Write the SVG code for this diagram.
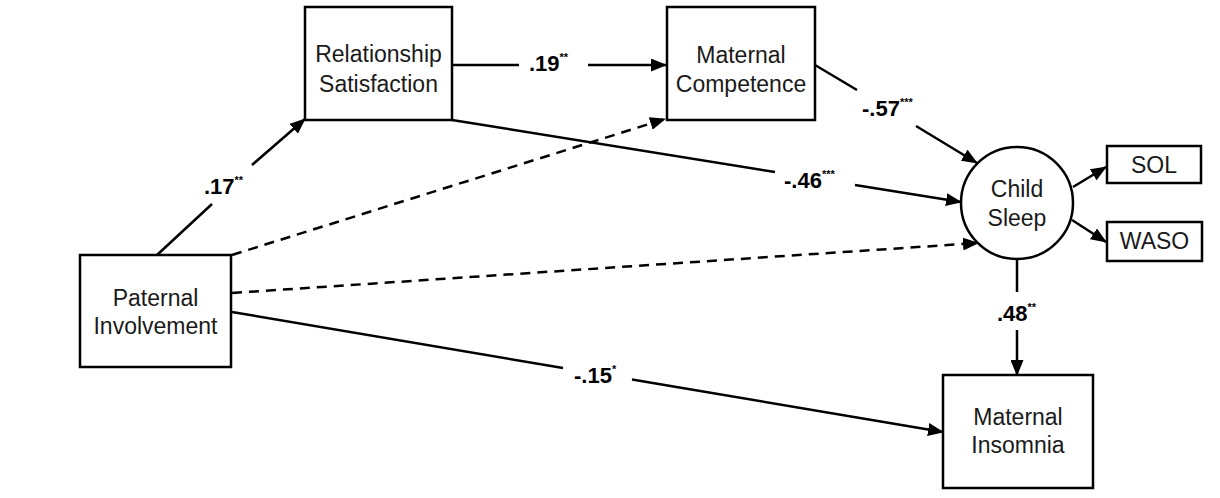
<svg xmlns="http://www.w3.org/2000/svg" width="1220" height="498" viewBox="0 0 1220 498">
<style>
.box{fill:#fff;stroke:#000;stroke-width:2.5}
.nt{font-family:"Liberation Sans",Arial,sans-serif;font-size:23px;fill:#1a1a1a;text-anchor:middle}
.lab{font-family:"Liberation Sans",Arial,sans-serif;font-size:22px;font-weight:bold;fill:#000}
.sup{font-size:11px}
.ln{fill:none;stroke:#000;stroke-width:2.5}
.dash{stroke-dasharray:10 7}
</style>
<defs>
<marker id="arr" viewBox="0 0 16 13" refX="15" refY="6.5" markerWidth="16" markerHeight="13" markerUnits="userSpaceOnUse" orient="auto">
<path d="M0,0 L16,6.5 L0,13 z" fill="#000"/>
</marker>
</defs>
<rect width="1220" height="498" fill="#fff"/>
<g id="connectors">
<path class="ln" d="M157,255 L212,204 M252,165 L305,119" marker-end="url(#arr)"/>
<path class="ln" d="M452,65 L519,65 M588,65 L666,65" marker-end="url(#arr)"/>
<path class="ln" d="M815,65 L857,90 M916,126 L977,163" marker-end="url(#arr)"/>
<path class="ln" d="M452,120 L775,172 M855,185 L961,202" marker-end="url(#arr)"/>
<path class="ln dash" d="M232,255 L665,119" marker-end="url(#arr)"/>
<path class="ln dash" d="M232,293 L978,243" marker-end="url(#arr)"/>
<path class="ln" d="M232,312 L563,368 M632,379.5 L943,432" marker-end="url(#arr)"/>
<path class="ln" d="M1073,187 L1106,167" marker-end="url(#arr)"/>
<path class="ln" d="M1072,220 L1106,242" marker-end="url(#arr)"/>
<path class="ln" d="M1017,260 L1017,292 M1017,330 L1017,375" marker-end="url(#arr)"/>
<text class="lab" x="204" y="194">.17<tspan class="sup" dy="-10">**</tspan></text>
<text class="lab" x="529" y="71">.19<tspan class="sup" dy="-10">**</tspan></text>
<text class="lab" x="862" y="116">-.57<tspan class="sup" dy="-10">***</tspan></text>
<text class="lab" x="784" y="188">-.46<tspan class="sup" dy="-10">***</tspan></text>
<text class="lab" x="574" y="383">-.15<tspan class="sup" dy="-10">*</tspan></text>
<text class="lab" x="997" y="321">.48<tspan class="sup" dy="-10">**</tspan></text>
</g>
<g id="relationship-satisfaction">
<rect class="box" x="305" y="7" width="147" height="113"/>
<text class="nt" x="378.5" y="62">Relationship</text>
<text class="nt" x="378.5" y="92">Satisfaction</text>
</g>
<g id="maternal-competence">
<rect class="box" x="667" y="7" width="148" height="113"/>
<text class="nt" x="741" y="63">Maternal</text>
<text class="nt" x="741" y="92">Competence</text>
</g>
<g id="paternal-involvement">
<rect class="box" x="80" y="255" width="151" height="112"/>
<text class="nt" x="155.5" y="306">Paternal</text>
<text class="nt" x="155.5" y="334">Involvement</text>
</g>
<g id="child-sleep">
<circle class="box" cx="1017" cy="203" r="56"/>
<text class="nt" x="1017" y="197">Child</text>
<text class="nt" x="1017" y="226">Sleep</text>
</g>
<g id="sol">
<rect class="box" x="1107" y="146" width="94" height="37"/>
<text class="nt" x="1154" y="173">SOL</text>
</g>
<g id="waso">
<rect class="box" x="1107" y="222" width="95" height="39"/>
<text class="nt" x="1154.5" y="249">WASO</text>
</g>
<g id="maternal-insomnia">
<rect class="box" x="943" y="375" width="150" height="113"/>
<text class="nt" x="1018" y="425">Maternal</text>
<text class="nt" x="1018" y="453">Insomnia</text>
</g>
</svg>
